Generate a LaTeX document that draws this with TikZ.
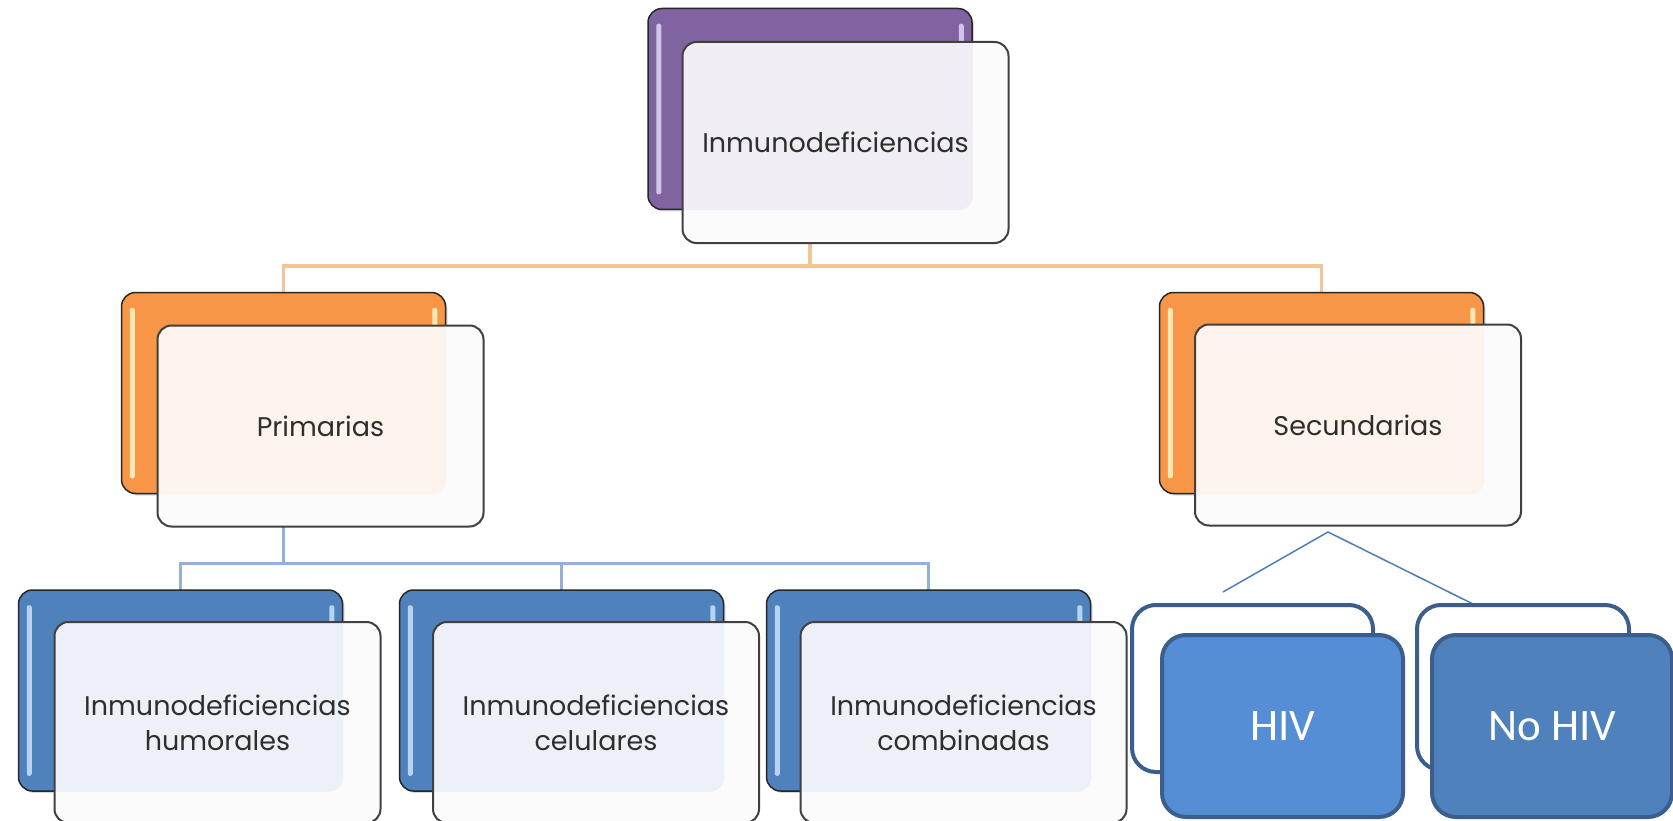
\documentclass[tikz,border=0pt]{standalone}
\usepackage{fontspec}
\setmainfont{Poppins}
\newfontfamily\calfont{Carlito}
\usetikzlibrary{shadows}
\definecolor{purp}{HTML}{8064A2}
\definecolor{purpl}{HTML}{C9B9E2}
\definecolor{purpt}{HTML}{F0EEF4}
\definecolor{orng}{HTML}{F79646}
\definecolor{orngl}{HTML}{FFE3A6}
\definecolor{orngt}{HTML}{FCF3EC}
\definecolor{blu}{HTML}{4F81BD}
\definecolor{blul}{HTML}{A9CDF0}
\definecolor{blut}{HTML}{EDF1F7}
\definecolor{frontfill}{HTML}{FBFBFB}
\definecolor{oline}{HTML}{F3C595}
\definecolor{bline}{HTML}{93B0D6}
\definecolor{hivdraw}{HTML}{3B5E8C}
\definecolor{hivfill}{HTML}{558ED5}
\definecolor{nohivfill}{HTML}{4F81BD}
\definecolor{tline}{HTML}{4A7EBB}
\newcommand\pairbox[7]{%
  \node[backbox, fill=#4] (#1B) at #2 {};
  \fill[#5!85!white, rounded corners=2pt]
    ([xshift=9pt,yshift=-16pt]#1B.north west) rectangle ([xshift=14pt,yshift=16pt]#1B.south west);
  \fill[#5!85!white, rounded corners=2pt]
    ([xshift=-14pt,yshift=-16pt]#1B.north east) rectangle ([xshift=-9pt,yshift=16pt]#1B.south east);
  \node[frontbox, path picture={\fill[#6, rounded corners=14pt] (#1B.south west) rectangle (#1B.north east);}] (#1F) at #3 {#7};
}
\begin{document}
\begin{tikzpicture}[x=1pt,y=-1pt,
  backbox/.style={draw=black!85, line width=1.5pt, rounded corners=14pt,
    minimum width=324pt, minimum height=201pt, inner sep=0pt,
    drop shadow={opacity=0.3, shadow xshift=2pt, shadow yshift=-2pt}},
  frontbox/.style={draw=black!75, line width=2pt, rounded corners=14pt,
    minimum width=326pt, minimum height=201pt, fill=frontfill, text=black!82,
    font=\fontsize{27}{35}\selectfont, align=center, inner sep=0pt},
  orangeconn/.style={oline, line width=3.5pt},
  blueconn/.style={bline, line width=3pt},
  hivback/.style={draw=hivdraw, line width=4pt, rounded corners=24pt, fill=white, inner sep=0pt},
  hivfront/.style={draw=hivdraw, line width=4pt, rounded corners=24pt, inner sep=0pt,
    text=white, font=\calfont\fontsize{45}{54}\selectfont},
  triline/.style={tline, line width=1.5pt}]
\useasboundingbox (0,0) rectangle (1673,821);
\fill[white] (0,0) rectangle (1673,821);
% connectors (drawn first, under the boxes)
\coordinate (topS) at (810,210);
\coordinate (primN) at (283.5,292);
\coordinate (secN) at (1321.5,292);
\coordinate (primS) at (283.5,493);
\coordinate (b1N) at (180.5,590);
\coordinate (b2N) at (561.5,590);
\coordinate (b3N) at (928.5,590);
\draw[orangeconn] (topS) -- ++(0,56) -| (primN);
\draw[orangeconn] (topS) -- ++(0,56) -| (secN);
\draw[blueconn] (primS) -- ++(0,70) -| (b1N);
\draw[blueconn] (primS) -- ++(0,70) -| (b2N);
\draw[blueconn] (primS) -- ++(0,70) -| (b3N);
% compound boxes
\pairbox{top}{(810,109)}{(845.5,142.5)}{purp}{purpl}{purpt}{\hspace*{-20pt}Inmunodeficiencias}
\pairbox{prim}{(283.5,393)}{(320.5,426)}{orng}{orngl}{orngt}{Primarias}
\pairbox{sec}{(1321.5,393)}{(1358,425)}{orng}{orngl}{orngt}{Secundarias}
\pairbox{bA}{(180.5,690.5)}{(217.5,722.5)}{blu}{blul}{blut}{Inmunodeficiencias\\humorales}
\pairbox{bB}{(561.5,690.5)}{(596,722.5)}{blu}{blul}{blut}{Inmunodeficiencias\\celulares}
\pairbox{bC}{(928.5,690.5)}{(963.5,722.5)}{blu}{blul}{blut}{Inmunodeficiencias\\combinadas}
% HIV branch
\coordinate (apex) at (1328,532);
\coordinate (hl) at (1223,592);
\coordinate (hr) at (1475,605);
\draw[triline] (hl) -- (apex) -- (hr);
\node[hivback, minimum width=241pt, minimum height=167pt] (hivB) at (1252.5,688.5) {};
\node[hivfront, fill=hivfill, minimum width=241pt, minimum height=182pt] (hivF) at (1282.5,726) {HIV};
\node[hivback, minimum width=212pt, minimum height=165pt] (nohivB) at (1523,687.5) {};
\node[hivfront, fill=nohivfill, minimum width=240pt, minimum height=182pt] (nohivF) at (1552,726) {No HIV};
\end{tikzpicture}
\end{document}
